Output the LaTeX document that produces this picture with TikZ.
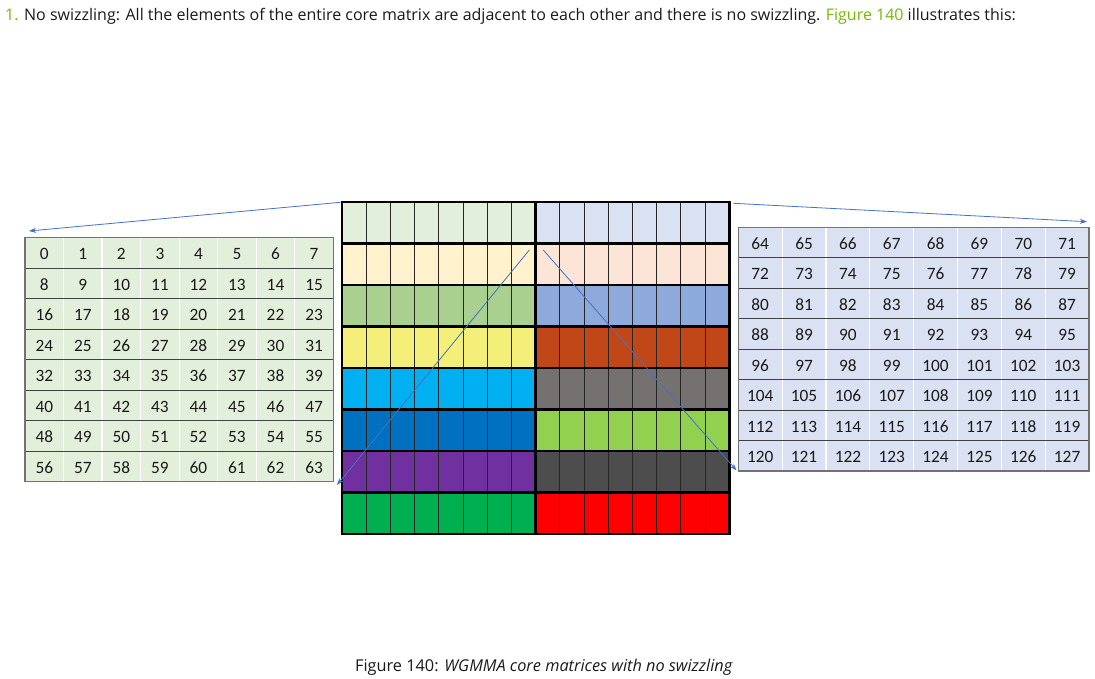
\documentclass[tikz,border=0pt]{standalone}
\usepackage{fontspec}
\setmainfont{Open Sans}
\newfontfamily\calibfont{Carlito}
\usetikzlibrary{arrows.meta}
\definecolor{nvgreen}{HTML}{76B900}
\definecolor{txt}{HTML}{1A1A1A}
\definecolor{arrblue}{HTML}{4472C4}
\definecolor{tgreen}{HTML}{E2EFDA}
\definecolor{tblue}{HTML}{D9E1F2}
\definecolor{cAl}{HTML}{E2EFDA}\definecolor{cAr}{HTML}{D9E1F2}
\definecolor{cBl}{HTML}{FFF2CC}\definecolor{cBr}{HTML}{FCE4D6}
\definecolor{cCl}{HTML}{A9D08E}\definecolor{cCr}{HTML}{8EA9DB}
\definecolor{cDl}{HTML}{F3EF78}\definecolor{cDr}{HTML}{C24718}
\definecolor{cEl}{HTML}{00B0F0}\definecolor{cEr}{HTML}{767171}
\definecolor{cFl}{HTML}{0070C0}\definecolor{cFr}{HTML}{92D050}
\definecolor{cGl}{HTML}{7030A0}\definecolor{cGr}{HTML}{4D4D4D}
\definecolor{cHl}{HTML}{00B050}\definecolor{cHr}{HTML}{FF0000}
\begin{document}
\begin{tikzpicture}[x=1pt,y=-1pt,
  arr/.style={draw=arrblue,line width=0.8pt,-{Stealth[length=7pt,width=5pt]}},
  cellline/.style={draw=black!85,line width=1pt},
  blockline/.style={draw=black,line width=2.8pt},
  num/.style={font=\calibfont\fontsize{17.3}{19}\selectfont,text=txt,inner sep=0pt,text height=11pt,text depth=0pt,yshift=-1.5pt},
  rowline/.style={draw=black!75,line width=0.9pt},
  colsep/.style={draw=white,line width=1.2pt},
  tborder/.style={draw=black!55,line width=1.2pt}]
\useasboundingbox (0,0) rectangle (1095,679);
\fill[white] (0,0) rectangle (1095,679);
% top text
\node[anchor=base west,inner sep=0pt,text=txt,font=\fontsize{16}{18}\selectfont] (intro) at (5,20.5)
 {\textcolor{nvgreen}{1.} No swizzling: All the elements of the entire core matrix are adjacent to each other and there is no swizzling. \textcolor{nvgreen}{Figure 140} illustrates this:};
% centre matrix
\def\xl{342}\def\xm{535.7}\def\xr{729.5}\def\yt{202}\def\rh{41.5}\def\cw{24.21}
\foreach \r/\L in {0/A,1/B,2/C,3/D,4/E,5/F,6/G,7/H}{
  \pgfmathsetmacro{\ya}{\yt+\r*\rh}
  \pgfmathsetmacro{\yb}{\yt+(\r+1)*\rh}
  \fill[c\L l] (\xl,\ya) rectangle (\xm,\yb);
  \fill[c\L r] (\xm,\ya) rectangle (\xr,\yb);
  \foreach \c in {1,...,7}{
    \draw[cellline] (\xl+\c*\cw,\ya) -- (\xl+\c*\cw,\yb);
    \draw[cellline] (\xm+\c*\cw,\ya) -- (\xm+\c*\cw,\yb);
  }
  \draw[blockline] (\xl,\ya) rectangle (\xm,\yb);
  \draw[blockline] (\xm,\ya) rectangle (\xr,\yb);
}
% left table
\def\lx{25}\def\ly{237.7}\def\lw{38.54}\def\lh{30.5}
\fill[tgreen] (\lx,\ly) rectangle (\lx+8*\lw,\ly+8*\lh);
\foreach \c in {1,...,7}{\draw[colsep] (\lx+\c*\lw,\ly) -- (\lx+\c*\lw,\ly+8*\lh);}
\foreach \r in {1,...,7}{\draw[rowline] (\lx,\ly+\r*\lh) -- (\lx+8*\lw,\ly+\r*\lh);}
\draw[tborder] (\lx,\ly) rectangle (\lx+8*\lw,\ly+8*\lh);
\foreach \r in {0,...,7}{\foreach \c in {0,...,7}{
  \pgfmathtruncatemacro{\n}{8*\r+\c}
  \node[num] (L\n) at (\lx+\c*\lw+0.5*\lw,\ly+\r*\lh+0.5*\lh) {\n};
}}
% right table
\def\rx{738.3}\def\ry{227.3}\def\rw{43.84}\def\rhh{30.46}
\fill[tblue] (\rx,\ry) rectangle (\rx+8*\rw,\ry+8*\rhh);
\foreach \c in {1,...,7}{\draw[colsep] (\rx+\c*\rw,\ry) -- (\rx+\c*\rw,\ry+8*\rhh);}
\foreach \r in {1,...,7}{\draw[rowline] (\rx,\ry+\r*\rhh) -- (\rx+8*\rw,\ry+\r*\rhh);}
\draw[tborder] (\rx,\ry) rectangle (\rx+8*\rw,\ry+8*\rhh);
\foreach \r in {0,...,7}{\foreach \c in {0,...,7}{
  \pgfmathtruncatemacro{\n}{64+8*\r+\c}
  \node[num] (R\n) at (\rx+\c*\rw+0.5*\rw,\ry+\r*\rhh+0.5*\rhh) {\n};
}}
% arrows
\coordinate (a1s) at (340.5,202.3);
\coordinate (a1e) at (29,231);
\coordinate (a2s) at (733.3,203.3);
\coordinate (a2e) at (1087,221.7);
\coordinate (a3s) at (529.3,250);
\coordinate (a3e) at (337,485);
\coordinate (a4s) at (543.3,250);
\coordinate (a4e) at (736.5,470.5);
\draw[arr] (a1s) -- (a1e);
\draw[arr] (a2s) -- (a2e);
\draw[arr] (a3s) -- (a3e);
\draw[arr] (a4s) -- (a4e);
% caption
\node[inner sep=0pt,text=txt,font=\fontsize{16.3}{18}\selectfont] (cap) at (544,667)
 {Figure 140: \textit{WGMMA core matrices with no swizzling}};
\end{tikzpicture}
\end{document}
